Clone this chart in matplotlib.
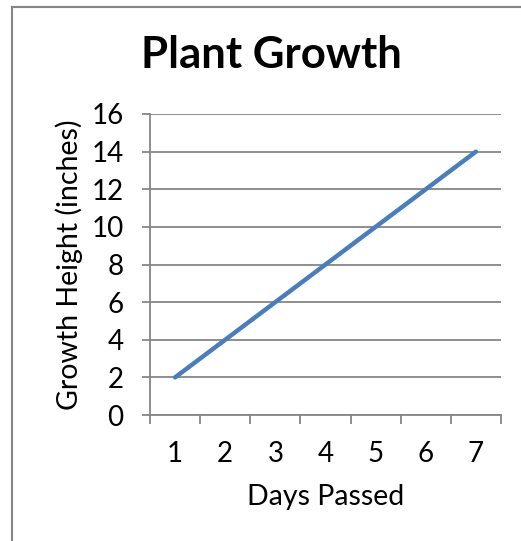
import matplotlib.pyplot as plt
from matplotlib.lines import Line2D

# data
days = [1, 2, 3, 4, 5, 6, 7]
height = [2, 4, 6, 8, 10, 12, 14]
yticks = [0, 2, 4, 6, 8, 10, 12, 14, 16]

plt.rcParams['font.family'] = ['Lato', 'DejaVu Sans']

W, H = 521, 541
fig = plt.figure(figsize=(W / 100, H / 100), dpi=100)
ax = fig.add_axes([150 / W, (H - 415) / H, (501 - 150) / W, (415 - 114) / H])

gray = '#868686'
ax.plot(days, height, color='#4a7ebb', lw=3.2, solid_capstyle='round')

ax.set_xlim(0.5, 7.5)
ax.set_ylim(0, 16)
ax.set_yticks(yticks)
ax.set_xticks(days)
ax.set_xticks([d - 0.5 for d in days] + [7.5], minor=True)
ax.yaxis.grid(True, color=gray, lw=1.3)
ax.set_axisbelow(True)

for s in ['top', 'right']:
    ax.spines[s].set_visible(False)
for s in ['left', 'bottom']:
    ax.spines[s].set_color(gray)
    ax.spines[s].set_linewidth(1.3)

ax.tick_params(axis='y', direction='out', length=6, width=1.3, color=gray,
               labelsize=20, pad=13)
ax.tick_params(axis='x', which='major', length=0, labelsize=20, pad=19)
ax.tick_params(axis='x', which='minor', direction='out', length=6.5,
               width=1.3, color=gray)

ax.set_xlabel('Days Passed', fontsize=20.5, labelpad=12)
ax.set_ylabel('Growth Height (inches)', fontsize=20.5, labelpad=6)
fig.text(271 / W, 1 - 55 / H, 'Plant Growth', fontsize=31.5, fontweight='bold',
         ha='center', va='center')

# chart border
fig.add_artist(Line2D([12 / W, 12 / W], [1 - 7 / H, 0], transform=fig.transFigure,
                      color=gray, lw=1.5))
fig.add_artist(Line2D([12 / W, 1], [1 - 7 / H, 1 - 7 / H], transform=fig.transFigure,
                      color=gray, lw=1.5))

fig.savefig('out.png', dpi=100)
